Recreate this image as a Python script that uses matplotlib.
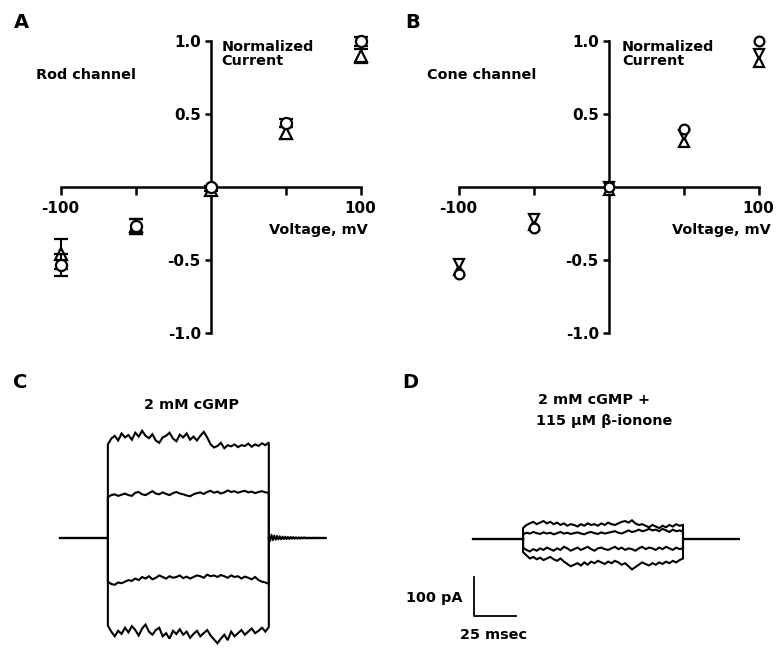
import numpy as np
import matplotlib
matplotlib.use("Agg")
import matplotlib.pyplot as plt

plt.rcParams['font.family'] = ['DejaVu Sans']
plt.rcParams['font.weight'] = 'bold'

# ---- panel A / B data (normalized current vs voltage) ----
voltage = [-100, -50, 0, 50, 100]

rod_circle = [-0.535, -0.27, 0.0, 0.44, 1.0]
rod_circle_err = [0.075, 0.05, 0.01, 0.03, 0.03]
rod_triangle = [-0.46, -0.27, -0.02, 0.37, 0.90]
rod_triangle_err = [0.10, 0.05, 0.01, 0.04, 0.05]

cone_circle = [-0.60, -0.28, 0.0, 0.40, 1.0]
cone_down = [-0.53, -0.22, 0.0, 0.36, 0.91]
cone_up = [-0.57, -0.26, -0.02, 0.31, 0.86]

# ---- panel C / D data (current traces, pA, 2 ms samples during the step) ----
c_step = [28.5, 124.3]       # ms
c_end = 158
c_top = [240, 255, 262, 250, 268, 258, 264, 252, 270, 260, 275, 262, 256, 266, 250, 244,
         258, 262, 270, 255, 248, 265, 258, 268, 252, 260, 250, 262, 272, 258, 240, 232,
         236, 244, 230, 238, 235, 240, 233, 238, 236, 242, 234, 240, 236, 243, 238, 245]
c_mid_up = [105, 110, 112, 108, 111, 114, 110, 108, 116, 118, 112, 110, 115, 120, 114, 112,
            117, 113, 110, 115, 118, 114, 112, 109, 107, 112, 115, 117, 113, 118, 121, 116,
            119, 114, 117, 122, 118, 120, 116, 119, 121, 117, 119, 115, 118, 120, 117, 116]
c_mid_down = [-112, -118, -120, -114, -116, -112, -108, -110, -104, -108, -100, -104, -98, -106,
              -102, -96, -100, -104, -98, -102, -100, -96, -103, -99, -104, -100, -96, -98,
              -102, -94, -98, -96, -100, -95, -98, -102, -96, -100, -98, -104, -99, -102, -106,
              -100, -108, -112, -114, -118]
c_bottom = [-225, -240, -252, -238, -246, -230, -242, -226, -236, -250, -232, -222, -240, -248,
            -236, -230, -252, -244, -258, -238, -246, -234, -248, -240, -256, -246, -238, -252,
            -244, -236, -250, -260, -270, -258, -248, -262, -240, -252, -244, -236, -248, -240,
            -232, -244, -238, -230, -240, -228]
c_tail = [14, -8, 9, -6, 7, -5, 6, -4, 5, -4, 4, -3, 4, -3, 3, -3, 3, -2, 3, -2, 2, -2, 2, -2,
          2, -1, 2, -1, 1, -1, 1, -1, 1, -1, 1, -1, 1, 0]

d_step = [29.8, 125.0]
d_end = 158
d_top = [28, 36, 40, 44, 38, 42, 46, 40, 44, 38, 42, 36, 40, 34, 38, 36, 32, 38, 34, 40, 36,
         38, 34, 40, 36, 42, 38, 36, 40, 44, 46, 42, 48, 40, 36, 38, 34, 30, 36, 32, 28, 34,
         30, 36, 32, 38, 34, 36]
d_mid_up = [12, 16, 14, 18, 15, 13, 17, 14, 16, 12, 15, 18, 14, 16, 13, 15, 17, 14, 12, 16,
            18, 15, 13, 17, 14, 16, 18, 20, 16, 14, 18, 22, 18, 20, 24, 20, 22, 26, 22, 24,
            20, 26, 22, 18, 24, 20, 22, 19]
d_mid_down = [-22, -28, -32, -26, -30, -24, -28, -22, -26, -30, -24, -28, -20, -24, -30, -26,
              -22, -28, -24, -20, -26, -30, -24, -22, -26, -28, -24, -20, -26, -22, -28, -24,
              -26, -30, -24, -20, -26, -22, -24, -28, -22, -26, -20, -24, -28, -22, -26, -24]
d_bottom = [-34, -42, -50, -46, -52, -48, -54, -50, -46, -52, -56, -50, -58, -64, -70, -66,
            -62, -68, -60, -66, -58, -62, -56, -60, -64, -58, -62, -56, -60, -66, -62, -70,
            -78, -72, -66, -60, -64, -68, -62, -66, -60, -64, -58, -62, -56, -60, -54, -50]

W, H = 776, 650
fig = plt.figure(figsize=(W / 100, H / 100), dpi=100)
FS = 10.4


def px_axes(x0, y0, x1, y1):
    # axes from pixel box (top-left origin)
    return fig.add_axes([x0 / W, 1 - y1 / H, (x1 - x0) / W, (y1 - y0) / H])


def iv_axes(ax):
    ax.set_xlim(-110, 110)
    ax.set_ylim(-1.05, 1.05)
    for s in ['top', 'right']:
        ax.spines[s].set_visible(False)
    ax.spines['left'].set_position(('data', 0))
    ax.spines['bottom'].set_position(('data', 0))
    ax.spines['left'].set_bounds(-1, 1)
    ax.spines['bottom'].set_bounds(-100, 100)
    for s in ['left', 'bottom']:
        ax.spines[s].set_linewidth(1.8)
    ax.set_xticks([-100, -50, 50, 100], ['-100', '', '', '100'])
    ax.set_yticks([-1, -0.5, 0.5, 1], ['-1.0', '-0.5', '0.5', '1.0'])
    ax.tick_params(axis='x', direction='out', length=6, width=1.8, pad=4, labelsize=11)
    ax.tick_params(axis='y', direction='out', length=4, width=1.8, pad=3, labelsize=11)
    ax.patch.set_alpha(0)


mk = dict(mfc='white', mec='black', mew=1.6, ls='none', clip_on=False)

# ---- A ----
axA = px_axes(45.5, 34, 375.5, 340)
iv_axes(axA)
axA.errorbar(voltage, rod_triangle, yerr=rod_triangle_err, fmt='^', ms=8, ecolor='black',
             elinewidth=1.5, capsize=5, capthick=1.5, zorder=3, **mk)
axA.errorbar(voltage, rod_circle, yerr=rod_circle_err, fmt='o', ms=8, ecolor='black',
             elinewidth=1.5, capsize=5, capthick=1.5, zorder=4, **mk)
axA.text(-116, 0.77, 'Rod channel', fontsize=FS, va='center', ha='left')
axA.text(7.5, 1.01, 'Normalized\nCurrent', fontsize=FS, va='top', ha='left', linespacing=1.05)
axA.text(105, -0.295, 'Voltage, mV', fontsize=FS, va='center', ha='right')

# ---- B ----
axB = px_axes(443.5, 34, 773.5, 340)
iv_axes(axB)
axB.plot(voltage, cone_up, marker='^', ms=7, zorder=3, **mk)
axB.plot(voltage, cone_down, marker='v', ms=7, zorder=3, **mk)
axB.plot(voltage, cone_circle, marker='o', ms=7, zorder=4, **mk)
axB.text(-121, 0.77, 'Cone channel', fontsize=FS, va='center', ha='left')
axB.text(9, 1.01, 'Normalized\nCurrent', fontsize=FS, va='top', ha='left', linespacing=1.05)
axB.text(108, -0.295, 'Voltage, mV', fontsize=FS, va='center', ha='right')


def trace_axes(x0, x_zero, y_base):
    # 1.68 px per ms, 0.39 px per pA
    ax = px_axes(x0, 420, x0 + 310, 650)
    ax.set_xlim((x0 - x_zero) / 1.68, (x0 + 310 - x_zero) / 1.68)
    ax.set_ylim(-(650 - y_base) / 0.39, (y_base - 420) / 0.39)
    ax.axis('off')
    return ax


def draw_step(ax, step, end, levels, tail=None):
    t = np.linspace(step[0], step[1], len(levels[0]))
    for lv in levels:
        ax.plot([0, step[0]] + list(t) + [step[1], end], [0, 0] + list(lv) + [0, 0],
                color='black', lw=1.5, solid_joinstyle='miter')
    if tail is not None:
        tt = np.linspace(step[1], step[1] + 30, len(tail))
        ax.plot(tt, tail, color='black', lw=1.2)


# ---- C ----
axC = trace_axes(40, 60, 538)
draw_step(axC, c_step, c_end, [c_top, c_mid_up, c_mid_down, c_bottom], tail=c_tail)
fig.text(192 / W, 1 - 405 / H, '2 mM cGMP', fontsize=FS, ha='center', va='center')

# ---- D ----
axD = trace_axes(450, 473, 539)
draw_step(axD, d_step, d_end, [d_top, d_mid_up, d_mid_down, d_bottom])
# scale bar: 100 pA, 25 ms
axD.plot([0.6, 0.6, 25.6], [-97, -197, -197], color='black', lw=1.3)
fig.text(594 / W, 1 - 400 / H, '2 mM cGMP +', fontsize=FS, ha='center', va='center')
fig.text(604 / W, 1 - 421 / H, '115 \u03bcM \u03b2-ionone', fontsize=FS, ha='center', va='center')
fig.text(462 / W, 1 - 598 / H, '100 pA', fontsize=FS, ha='right', va='center')
fig.text(493 / W, 1 - 635 / H, '25 msec', fontsize=FS, ha='center', va='center')

# panel letters
for lab, x, y in [('A', 21, 22), ('B', 413, 22), ('C', 20, 382), ('D', 410, 382)]:
    fig.text(x / W, 1 - y / H, lab, fontsize=14, ha='center', va='center')

fig.savefig('out.png', dpi=100)
